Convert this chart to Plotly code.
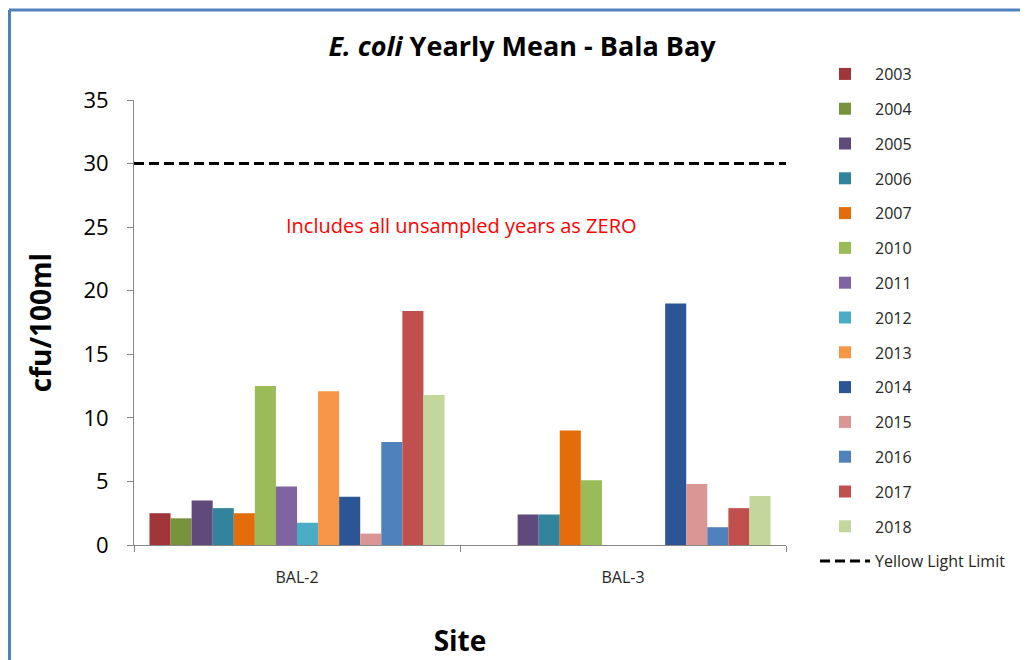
import plotly.graph_objects as go

sites = ["BAL-2", "BAL-3"]
years = ["2003", "2004", "2005", "2006", "2007", "2010", "2011", "2012",
         "2013", "2014", "2015", "2016", "2017", "2018"]
values = {
    "2003": [2.5, 0],
    "2004": [2.1, 0],
    "2005": [3.5, 2.4],
    "2006": [2.9, 2.4],
    "2007": [2.5, 9.0],
    "2010": [12.5, 5.1],
    "2011": [4.6, 0],
    "2012": [1.75, 0],
    "2013": [12.1, 0],
    "2014": [3.8, 19.0],
    "2015": [0.9, 4.8],
    "2016": [8.1, 1.4],
    "2017": [18.4, 2.9],
    "2018": [11.8, 3.85],
}
colors = ["#A0353A", "#77933C", "#604A7B", "#31849B", "#E46C0A", "#9BBB59",
          "#8064A2", "#4BACC6", "#F79646", "#2C5596", "#D99694", "#4F81BD",
          "#C0504D", "#C3D69B"]
limit_name = "Yellow Light Limit"
limit_value = 30

# page body has an 8px margin; work in figure pixels = screen - 8
OFF = 8
W, H = 1028 - OFF, 660 - OFF
L, R, T, B = 134 - OFF, 786 - OFF, 100 - OFF, 545 - OFF
PW, PH = R - L, B - T

def px(x):
    return (x - OFF - L) / PW

def py(y):
    return (B - (y - OFF)) / PH

fig = go.Figure()
for i, y in enumerate(years):
    fig.add_trace(go.Bar(x=sites, y=values[y], name=y, marker_color=colors[i],
                         marker_line_width=0, legendgroup=y))

fig.add_trace(go.Scatter(x=[0, 1], y=[limit_value, limit_value], mode="lines",
                         name=limit_name, xaxis="x2", legendgroup="limit",
                         line=dict(color="black", width=3, dash="10px,5px")))

font_main = "Open Sans, sans-serif"

fig.update_layout(
    width=W, height=H,
    margin=dict(l=L, r=W - R, t=T, b=H - B, autoexpand=False),
    paper_bgcolor="white", plot_bgcolor="white",
    barmode="group", bargap=0.095, bargroupgap=0,
    font=dict(family=font_main, color="#000000"),
    title=dict(text="<b><i>E. coli</i> Yearly Mean - Bala Bay</b>", x=(522 - OFF) / W,
               xanchor="center", y=1 - (47 - OFF) / H, yanchor="middle",
               font=dict(size=27, family=font_main)),
    xaxis=dict(showline=True, linecolor="#868686", linewidth=1, ticks="outside",
               tickson="boundaries", ticklen=6, tickcolor="#868686", automargin=False,
               tickfont=dict(size=16, color="#262626"), ticklabelstandoff=18,
               title=dict(text="<b>Site</b>", font=dict(size=28), standoff=44)),
    xaxis2=dict(overlaying="x", range=[0, 1], visible=False),
    yaxis=dict(range=[0, 35], dtick=5, showline=True, linecolor="#868686", linewidth=1,
               ticks="outside", ticklen=6, tickcolor="#868686", showgrid=False, zeroline=False,
               tickfont=dict(size=22, color="#000000"), automargin=False,
               ticklabelstandoff=14,
               title=dict(text="<b>cfu/100ml</b>", font=dict(size=28), standoff=23)),
    legend=dict(x=px(815), y=py(57), xanchor="left", yanchor="top",
                font=dict(size=16, color="#262626"), tracegroupgap=11,
                bgcolor="rgba(0,0,0,0)", itemwidth=50, maxheight=620),
    annotations=[dict(text="Includes all unsampled years as ZERO", xref="paper", yref="paper",
                      x=px(461), y=py(225), xanchor="center", yanchor="middle",
                      showarrow=False,
                      font=dict(size=20, color="#FF0000", family=font_main))],
    shapes=[
        dict(type="line", xref="paper", yref="paper", x0=px(9), x1=px(1040),
             y0=py(10), y1=py(10), line=dict(color="#4F81BD", width=3)),
        dict(type="line", xref="paper", yref="paper", x0=px(9.5), x1=px(9.5),
             y0=py(10), y1=py(670), line=dict(color="#4F81BD", width=3)),
    ],
)

fig.write_html("out.html")
